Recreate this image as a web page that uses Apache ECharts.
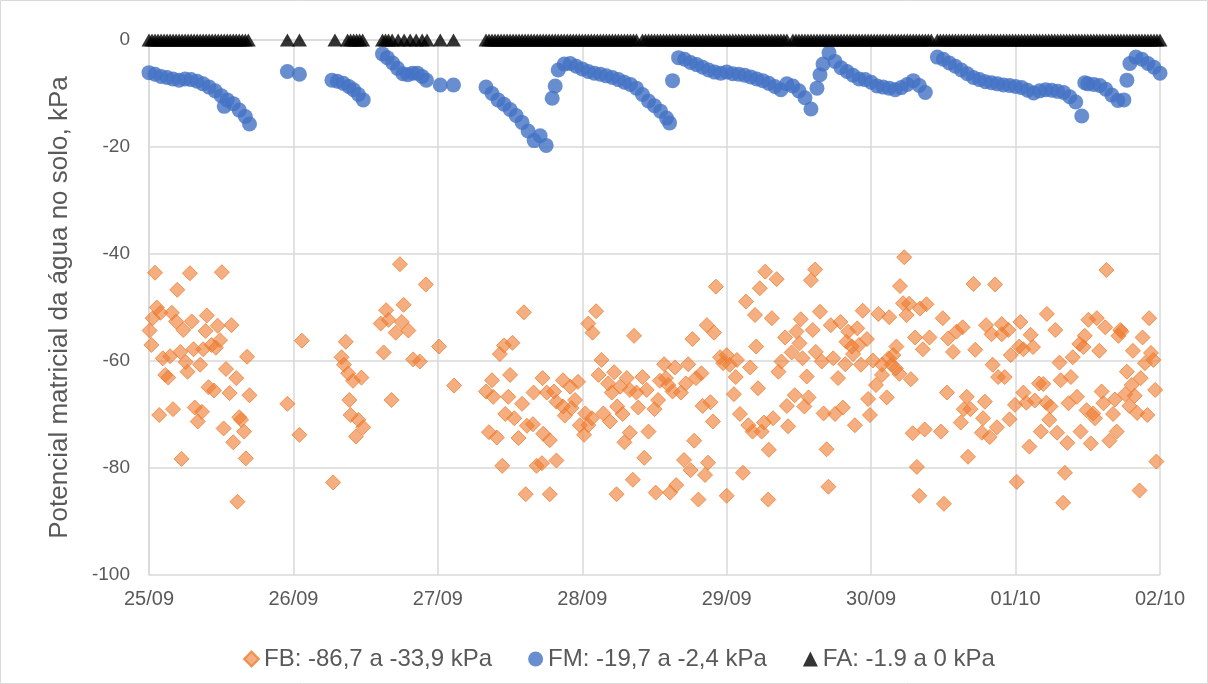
<!DOCTYPE html>
<html>
<head>
<meta charset="utf-8">
<script src="https://cdn.jsdelivr.net/npm/echarts@6/dist/echarts.min.js"></script>
<style>
  html, body { margin: 0; padding: 0; background: #ffffff; }
  #chart { width: 1208px; height: 684px; }
</style>
</head>
<body>
<div id="chart"></div>
<script>
// Time axis runs in hours from 25/09 00:00; one label per day.
const dayLabels = ['25/09', '26/09', '27/09', '28/09', '29/09', '30/09', '01/10', '02/10'];

const seriesNames = ['FB: -86,7 a -33,9 kPa', 'FM: -19,7 a -2,4 kPa', 'FA: -1.9 a 0 kPa'];

// FB sensor readings: [hour, kPa]
const fbReadings = [
  [1.0,-43.5],[6.8,-43.6],[12.1,-43.4],[4.7,-46.7],[1.3,-50.0],[1.9,-51.0],[0.6,-52.0],[3.8,-51.0],[4.5,-52.6],[5.7,-54.2],
  [7.1,-52.6],[9.6,-51.5],[9.4,-54.4],[11.4,-53.4],[13.7,-53.3],[0.1,-54.3],[0.4,-57.0],[2.3,-59.5],[3.5,-59.1],[5.2,-58.3],
  [6.1,-60.2],[7.4,-57.8],[9.0,-57.8],[10.4,-57.0],[11.8,-56.1],[11.1,-57.5],[6.4,-62.0],[2.7,-62.6],[3.2,-63.1],[8.5,-60.7],
  [12.8,-61.5],[14.5,-63.2],[16.3,-59.2],[9.9,-64.9],[10.8,-65.5],[13.4,-66.0],[16.7,-66.4],[1.7,-70.1],[4.0,-69.0],[7.6,-68.7],
  [8.8,-69.5],[8.1,-71.3],[15.0,-70.5],[15.3,-71.0],[12.4,-72.6],[15.8,-73.2],[14.0,-75.2],[5.4,-78.3],[16.1,-78.2],[14.7,-86.3],
  [23.0,-68.0],[25.4,-56.2],[25.0,-73.8],[30.6,-82.7],
  [32.7,-56.4],[32.0,-59.3],[32.4,-60.7],[33.1,-62.3],[33.9,-63.7],[35.3,-63.1],[33.3,-67.3],[33.5,-70.1],[34.8,-71.0],[35.6,-72.4],
  [34.4,-74.1],[39.0,-58.4],[39.4,-50.5],[39.8,-52.3],[38.5,-53.0],[42.3,-49.5],[41.7,-41.9],[46.0,-45.7],[42.0,-52.7],[41.0,-54.7],
  [43.1,-54.3],[40.3,-67.3],[43.9,-59.7],[45.0,-60.1],[48.2,-57.3],[50.7,-64.6],
  [62.3,-50.9],[60.4,-56.6],[59.0,-57.1],[58.3,-58.7],[57.0,-63.6],[60.0,-62.6],[56.0,-65.7],[57.2,-66.7],[59.7,-66.7],[62.0,-68.0],
  [65.4,-63.2],[63.9,-65.9],[66.1,-65.9],[67.3,-65.7],[67.7,-67.6],[59.2,-69.9],[60.7,-70.7],[62.8,-72.1],[63.8,-71.8],[56.5,-73.3],
  [57.8,-74.3],[61.4,-74.4],[65.5,-73.6],[66.6,-74.8],[58.7,-79.6],[64.4,-79.6],[65.3,-79.1],[67.7,-78.6],[62.6,-84.9],[66.6,-84.9],
  [74.3,-50.7],[73.0,-53.0],[73.7,-54.7],[80.6,-55.3],[68.8,-63.6],[71.3,-63.9],[70.0,-64.8],[70.8,-67.3],[68.8,-68.5],[70.2,-68.8],
  [69.1,-70.2],[75.2,-59.8],[74.7,-62.6],[77.3,-62.1],[76.3,-64.2],[76.9,-65.9],[78.3,-64.8],[79.4,-63.2],[79.9,-65.4],[81.0,-65.9],
  [82.0,-63.0],[82.7,-65.4],[72.5,-69.8],[71.6,-72.0],[73.6,-70.7],[73.0,-72.0],[72.3,-73.8],[75.5,-69.8],[76.6,-71.3],[77.8,-68.5],
  [78.7,-69.9],[81.3,-68.7],[79.9,-73.4],[79.0,-75.2],[83.0,-73.2],[82.3,-78.1],[80.4,-82.2],[77.7,-84.9],[84.2,-84.6],[86.6,-84.6],
  [87.6,-83.2],[91.3,-85.9],[96.0,-85.2],[85.6,-60.6],[87.4,-61.2],[89.6,-60.6],[84.9,-63.7],[85.9,-63.2],[86.3,-64.5],[84.6,-67.3],
  [84.0,-69.0],[87.0,-65.7],[88.4,-65.9],[89.2,-64.2],[90.9,-63.2],[91.8,-62.3],[90.3,-55.9],[92.7,-53.3],[93.9,-54.7],[94.2,-46.1],
  [92.0,-68.4],[93.3,-67.7],[93.7,-71.3],[90.6,-74.9],[88.9,-78.5],[90.0,-80.4],[92.4,-81.3],[92.9,-79.0],[94.9,-59.3],[96.0,-58.9],
  [96.5,-60.7],[95.4,-60.4],[97.7,-59.8],[97.5,-63.0],[97.2,-66.2],[98.2,-69.9],[99.9,-61.2],[101.2,-65.1],[99.6,-72.0],[100.3,-73.2],
  [101.8,-73.2],[102.2,-71.5],[98.7,-80.9],[99.2,-48.9],[100.7,-51.4],[101.5,-46.4],[102.4,-43.3],[100.9,-57.3],[103.0,-76.6],[102.9,-85.9],
  [110.7,-42.9],[110.0,-44.9],[104.3,-44.7],[103.5,-52.0],[108.3,-52.2],[111.5,-50.8],[113.3,-53.3],[114.9,-52.7],[110.3,-54.2],[107.6,-54.5],
  [105.7,-55.6],[108.1,-56.7],[106.8,-58.4],[105.1,-60.1],[104.6,-62.0],[108.6,-59.5],[110.8,-58.3],[111.8,-60.1],[113.7,-59.5],[115.7,-60.6],
  [116.2,-54.5],[117.7,-53.9],[115.9,-56.4],[116.8,-57.3],[118.0,-57.0],[119.3,-55.9],[117.0,-58.7],[118.6,-50.6],[118.3,-60.7],[109.3,-62.9],
  [114.5,-63.2],[107.3,-66.4],[109.6,-66.8],[106.0,-68.4],[108.9,-68.5],[103.7,-70.7],[106.2,-72.2],[112.1,-69.8],[114.0,-69.9],[115.3,-68.7],
  [117.3,-72.0],[119.5,-67.1],[119.8,-70.1],[112.6,-76.5],[112.9,-83.5],[120.3,-59.9],[121.2,-51.2],[123.0,-51.8],[121.8,-60.7],[122.9,-59.5],
  [123.7,-58.9],[124.2,-57.3],[123.4,-60.7],[124.1,-61.4],[121.8,-62.6],[124.7,-62.4],[126.6,-63.4],[120.8,-64.5],[122.6,-66.8],[125.5,-40.6],
  [124.8,-46.0],[125.3,-49.2],[126.3,-49.3],[125.9,-51.4],[128.1,-50.2],[129.2,-49.4],[131.9,-52.0],[127.3,-55.6],[129.7,-55.6],[128.6,-57.8],
  [132.8,-55.8],[134.2,-54.5],[135.2,-53.7],[133.6,-58.3],[137.0,-45.6],[137.3,-57.9],[132.6,-65.9],[135.9,-66.7],[135.4,-69.0],[136.5,-69.0],
  [134.9,-71.5],[126.9,-73.5],[128.9,-72.8],[131.6,-73.2],[136.1,-77.9],[127.6,-79.8],[128.0,-85.2],[132.1,-86.7],
  [140.6,-45.7],[159.1,-43.0],[149.2,-51.2],[144.8,-52.7],[139.1,-53.3],[140.0,-55.0],[141.7,-53.1],[141.7,-55.0],[142.8,-54.2],[150.6,-54.2],
  [146.5,-55.1],[144.6,-57.3],[145.3,-57.8],[146.9,-57.4],[143.2,-58.9],[140.2,-60.7],[141.1,-63.0],[142.2,-63.0],[151.3,-60.3],[153.5,-59.3],
  [155.5,-55.3],[154.6,-56.8],[155.3,-57.4],[156.1,-52.3],[157.5,-52.0],[158.9,-53.7],[157.9,-58.1],[161.4,-54.2],[161.6,-54.5],[161.1,-55.3],
  [165.1,-55.6],[163.5,-58.1],[166.2,-52.0],[166.5,-58.5],[165.5,-60.4],[166.9,-59.8],[162.5,-62.0],[164.8,-63.2],[163.3,-64.5],[167.2,-65.4],
  [153.2,-63.0],[151.5,-63.6],[147.9,-64.2],[148.6,-64.3],[145.3,-65.9],[145.8,-67.8],[147.2,-67.4],[149.1,-67.8],[149.8,-68.5],[143.9,-68.2],
  [138.9,-67.6],[154.2,-66.7],[152.8,-67.9],[158.3,-65.7],[158.6,-67.9],[160.5,-67.2],[162.2,-66.2],[163.8,-66.5],[162.9,-68.4],[164.2,-69.7],
  [165.9,-70.1],[155.8,-69.2],[156.9,-69.8],[157.2,-70.7],[160.2,-69.9],[149.6,-71.0],[143.0,-70.9],[140.9,-72.4],[139.7,-74.2],[138.4,-73.4],
  [138.6,-70.7],[148.2,-73.2],[150.9,-73.4],[152.6,-75.3],[154.8,-73.2],[156.5,-75.4],[159.6,-74.9],[160.8,-73.2],[146.3,-76.0],[167.4,-78.8],
  [144.2,-82.6],[152.2,-80.9],[151.9,-86.5],[164.6,-84.2]
];

// FM sensor readings: [hour, kPa]
const fmReadings = [
  [0,-6.1],[1,-6.4],[2,-6.8],[3,-7.0],[4,-7.3],[5,-7.5],[6,-7.3],[7,-7.4],[8,-7.7],[9,-8.2],
  [10,-8.8],[11,-9.5],[12,-10.4],[12.5,-12.4],[13,-11.2],[14,-11.9],[15,-13.1],[16,-14.3],[16.7,-15.7],
  [23,-5.9],[25,-6.4],
  [30.4,-7.5],[31.3,-7.7],[32.3,-8.1],[33.2,-8.7],[34.0,-9.3],[34.8,-10.2],[35.6,-11.2],
  [38.8,-2.6],[39.6,-3.3],[40.5,-4.3],[41.3,-5.3],[42.2,-6.3],[43.0,-6.5],[43.8,-6.2],[44.6,-6.2],[45.4,-6.8],[46.1,-7.5],
  [48.4,-8.4],[50.6,-8.4],
  [56,-8.8],[57,-10.0],[58,-11.2],[59,-12.0],[60,-13.0],[61,-14.1],[62,-15.4],[63,-17.0],[64,-18.8],[65,-17.9],[66,-19.7],
  [67,-10.9],[67.5,-8.6],[68,-5.6],[69,-4.5],[70,-4.4],[71,-4.9],[72,-5.4],[73,-5.9],[74,-6.2],[75,-6.4],[76,-6.7],[77,-7.0],
  [78,-7.4],[79,-7.9],[80,-8.3],[81,-9.0],[82,-10.2],[83,-11.4],[84,-12.3],[85,-13.3],[86,-14.6],[86.5,-15.5],
  [87,-7.6],[88,-3.3],[89,-3.6],[90,-4.2],[91,-4.6],[92,-5.1],[93,-5.6],[94,-6.0],[95,-6.2],[96,-6.0],[97,-6.3],[98,-6.4],
  [99,-6.6],[100,-6.9],[101,-7.3],[102,-7.6],[103,-8.1],[104,-8.7],[105,-9.3],[106,-8.2],[107,-8.6],[108,-9.5],[109,-10.8],[110,-12.9],
  [111,-9.0],[111.5,-6.5],[112,-4.5],[113,-2.4],[114,-4.0],[115,-5.2],[116,-5.9],[117,-6.6],[118,-7.3],[119,-7.4],[120,-7.9],
  [121,-8.6],[122,-8.8],[123,-9.0],[124,-9.3],[125,-8.9],[126,-8.3],[127,-7.6],[128,-8.5],[129,-9.8],
  [131,-3.2],[132,-3.6],[133,-4.3],[134,-4.9],[135,-5.6],[136,-6.3],[137,-7.0],[138,-7.4],[139,-7.8],[140,-8.0],[141,-8.2],
  [142,-8.4],[143,-8.5],[144,-8.7],[145,-8.9],[146,-9.4],[147,-9.9],[148,-9.5],[149,-9.3],[150,-9.4],[151,-9.6],[152,-9.8],
  [153,-10.6],[154,-11.6],[155,-14.2],[155.5,-8.0],[156,-8.2],[157,-8.3],[158,-8.5],[159,-9.2],[160,-10.3],[161,-11.3],[162,-11.2],
  [162.5,-7.5],[163,-4.4],[164,-3.2],[165,-3.6],[166,-4.4],[167,-5.1],[168,-6.2]
];

// FA sensor reading times (hours); every FA reading plots at 0 kPa at this scale
const faHours = [
  0,0.5,1,1.5,2,2.5,3,3.5,4,4.5,5,5.5,6,6.5,7,7.5,8,8.5,9,9.5,10,10.5,11,11.5,12,12.5,13,13.5,14,14.5,15,15.5,16,16.5,
  23,25,
  30.9,33,33.5,34,34.5,35,35.5,
  38.8,39.3,39.8,40.4,41.4,42.4,43.4,44.4,45.4,46.2,
  48.4,50.6,
  56,56.5,57,57.5,58,58.5,59,59.5,60,60.5,61,61.5,62,62.5,63,63.5,64,64.5,65,65.5,66,66.5,67,67.5,68,68.5,69,69.5,
  70,70.5,71,71.5,72,72.5,73,73.5,74,74.5,75,75.5,76,76.5,77,77.5,78,78.5,79,79.5,80,80.5,81,82,82.5,83,83.5,
  84,84.5,85,85.5,86,86.5,87,87.5,88,88.5,89,89.5,90,90.5,91,91.5,92,92.5,93,93.5,94,94.5,95,95.5,96,96.5,97,97.5,
  98,98.5,99,99.5,100,100.5,101,101.5,102,102.5,103,103.5,104,104.5,105,105.5,106,107,107.5,108,108.5,109,109.5,
  110,110.5,111,111.5,112,112.5,113,113.5,114,114.5,115,115.5,116,116.5,117,117.5,118,118.5,119,119.5,120,120.5,
  121,121.5,122,122.5,123,123.5,124,124.5,125,125.5,126,126.5,127,127.5,128,128.5,129,129.5,130,131,131.5,132,132.5,
  133,133.5,134,134.5,135,135.5,136,136.5,137,137.5,138,138.5,139,139.5,140,140.5,141,141.5,142,142.5,143,143.5,
  144,144.5,145,145.5,146,146.5,147,147.5,148,148.5,149,149.5,150,150.5,151,151.5,152,152.5,153,153.5,154,154.5,
  155,155.5,156,156.5,157,157.5,158,158.5,159,159.5,160,160.5,161,161.5,162,162.5,163,163.5,164,164.5,165,165.5,
  166,166.5,167,167.5,168
];
const faKpa = 0;

const FONT = "'Liberation Sans', Arial, sans-serif";
const TEXT = '#595959';
const GRID = '#D9D9D9';

const chart = echarts.init(document.getElementById('chart'), null, { renderer: 'canvas' });

chart.setOption({
  animation: false,
  backgroundColor: '#ffffff',
  textStyle: { fontFamily: FONT },
  graphic: [{
    type: 'rect',
    shape: { x: 0.5, y: 0.5, width: 1207, height: 683 },
    style: { fill: 'none', stroke: GRID, lineWidth: 1 },
    silent: true
  }],
  grid: { left: 149, right: 48, top: 40, bottom: 109 },
  legend: {
    top: 642,
    left: 238,
    itemGap: 36,
    itemWidth: 15,
    itemHeight: 15,
    textStyle: { fontFamily: FONT, fontSize: 24, color: TEXT },
    data: [
      { name: seriesNames[0], icon: 'diamond' },
      { name: seriesNames[1], icon: 'circle' },
      { name: seriesNames[2], icon: 'triangle' }
    ]
  },
  xAxis: {
    type: 'value',
    min: 0,
    max: 168,
    interval: 24,
    axisLine: { show: true, lineStyle: { color: GRID, width: 1.5 } },
    axisTick: { show: false },
    splitLine: { show: true, lineStyle: { color: GRID, width: 1.5 } },
    axisLabel: {
      margin: 14,
      fontFamily: FONT,
      fontSize: 20,
      color: TEXT,
      formatter: v => dayLabels[Math.round(v / 24)]
    }
  },
  yAxis: {
    type: 'value',
    min: -100,
    max: 0,
    interval: 20,
    name: 'Potencial matricial da água no solo, kPa',
    nameLocation: 'middle',
    nameRotate: 90,
    nameGap: 76,
    nameTextStyle: { fontFamily: FONT, fontSize: 26, color: TEXT },
    axisLine: { show: true, lineStyle: { color: GRID, width: 1.5 } },
    axisTick: { show: false },
    splitLine: { show: true, lineStyle: { color: GRID, width: 1.5 } },
    axisLabel: { margin: 19, fontFamily: FONT, fontSize: 19, color: TEXT }
  },
  series: [
    {
      name: seriesNames[0],
      type: 'scatter',
      symbol: 'diamond',
      symbolSize: 15,
      itemStyle: {
        color: 'rgba(237,125,49,0.78)',
        borderColor: 'rgba(237,125,49,0.95)',
        borderWidth: 1
      },
      data: fbReadings
    },
    {
      name: seriesNames[1],
      type: 'scatter',
      symbol: 'circle',
      symbolSize: 15,
      itemStyle: { color: '#4472C4' },
      data: fmReadings
    },
    {
      name: seriesNames[2],
      type: 'scatter',
      symbol: 'triangle',
      symbolSize: [15, 13],
      itemStyle: { color: '#000000' },
      data: faHours.map(h => [h, faKpa])
    }
  ]
});
</script>
</body>
</html>
